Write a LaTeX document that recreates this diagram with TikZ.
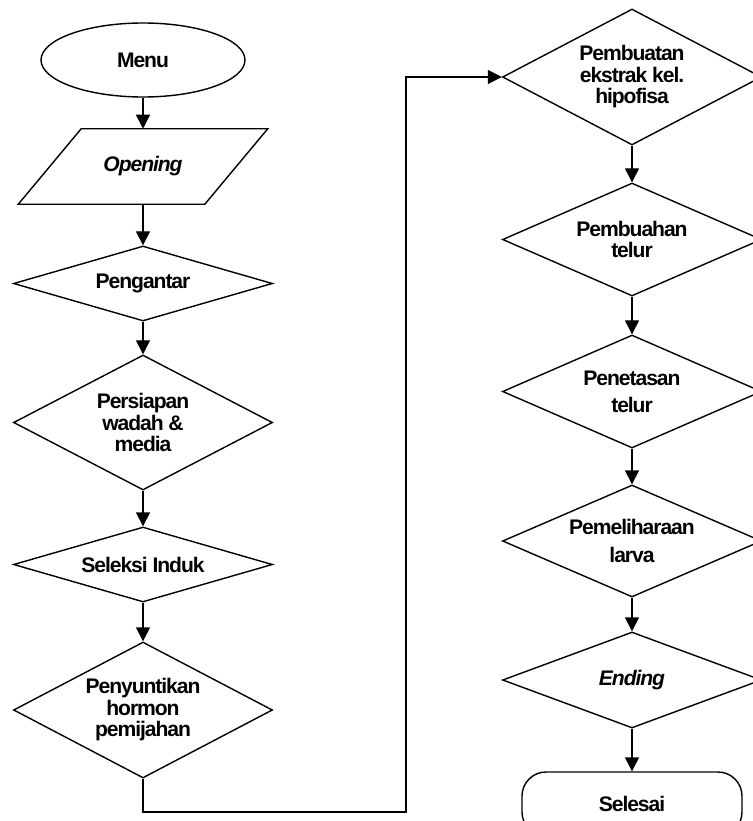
\documentclass[tikz,border=0pt]{standalone}
\usepackage{fontspec}
\setmainfont{Liberation Sans}[LetterSpace=-5]
\usetikzlibrary{shapes.geometric,arrows.meta}
\definecolor{ink}{HTML}{000000}
\newcommand{\pxu}{0.025cm}
\tikzset{
  line/.style={draw=ink, line width=1pt},
  flow/.style={line, -{Triangle[length=0.35cm, width=0.35cm]}},
  lbl/.style={text=ink, font=\fontsize{15}{15.3}\selectfont\bfseries, align=center, inner sep=0pt},
  start/.style={lbl, line, ellipse, minimum width=204*\pxu, minimum height=74*\pxu},
  finish/.style={lbl, line, rectangle, rounded corners=0.6cm, minimum width=220*\pxu, minimum height=64*\pxu},
  choice/.style={lbl, line, diamond, shape aspect=2, minimum width=259*\pxu},
  flatchoice/.style={choice, shape aspect=3.4}
}
\begin{document}
\begin{tikzpicture}[x=\pxu, y=-\pxu]
  \useasboundingbox (0,0) rectangle (753,821);
  \clip (0,0) rectangle (753,821);

  % kolom kiri
  \node[start] (menu) at (143,60) {Menu};
  \node[lbl, minimum width=186*\pxu, minimum height=75*\pxu] (opening) at (143,166.5) {\itshape Opening};
  \draw[line] ([xshift=31.5*\pxu]opening.north west) -- ([xshift=31.5*\pxu]opening.north east)
    -- ([xshift=-31.5*\pxu]opening.south east) -- ([xshift=-31.5*\pxu]opening.south west) -- cycle;
  \node[flatchoice, minimum height=75*\pxu] (pengantar) at (143,283.5) {Pengantar};
  \node[choice, minimum height=135*\pxu] (persiapan) at (143,422.5) {Persiapan\\wadah \&\\media};
  \node[flatchoice, minimum height=75*\pxu] (seleksi) at (143,564.5) {Seleksi Induk};
  \node[choice, minimum height=136*\pxu] (suntik) at (143,710) {Penyuntikan\\hormon\\pemijahan};

  % kolom kanan
  \node[choice, minimum height=136*\pxu] (ekstrak) at (632,77) {Pembuatan\\ekstrak kel.\\hipofisa};
  \node[choice, minimum height=113*\pxu] (buah) at (632,239.5) {Pembuahan\\telur};
  \node[choice, minimum height=113*\pxu] (tetas) at (632,391.5) {Penetasan\\[4pt]telur};
  \node[choice, minimum height=112*\pxu] (larva) at (632,541) {Pemeliharaan\\[4pt]larva};
  \node[flatchoice, minimum height=96*\pxu] (ending) at (632,680) {\itshape Ending};
  \node[finish] (selesai) at (632,804) {Selesai};

  \foreach \a/\b in {menu/opening, opening/pengantar, pengantar/persiapan, persiapan/seleksi,
    seleksi/suntik, ekstrak/buah, buah/tetas, tetas/larva, larva/ending, ending/selesai}
    \draw[flow] (\a.south) -- (\b.north);

  \coordinate (turn) at (406,812);
  \draw[flow] (suntik.south) |- (turn) |- (ekstrak.west);
\end{tikzpicture}
\end{document}
